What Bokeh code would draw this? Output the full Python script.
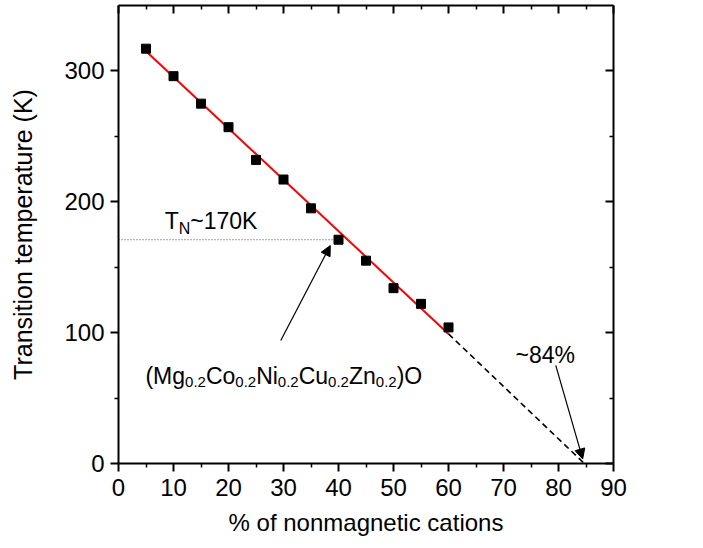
from bokeh.plotting import figure
from bokeh.models import LinearAxis, Range1d, Arrow, NormalHead, FixedTicker
from bokeh.core.properties import value
from bokeh.embed import file_html
from bokeh.resources import INLINE

# ---- data ----
nonmag_pct = [5, 10, 15, 20, 25, 30, 35, 40, 45, 50, 55, 60]
trans_temp = [317, 296, 275, 257, 232, 217, 195, 171, 155, 134, 122, 104]
fit_x = [5, 60]
fit_y = [315, 99]
extrap_x = [60, 84.7]
extrap_y = [99, 0]
tn_line_x = [0, 39.5]
tn_line_y = [171, 171]
x_major = [0, 10, 20, 30, 40, 50, 60, 70, 80, 90]
x_minor = [5, 15, 25, 35, 45, 55, 65, 75, 85]
y_major = [0, 100, 200, 300]
y_minor = [50, 150, 250]
# annotation anchors (data units)
tn_label_pos = (8.4, 185.0)
formula_label_pos = (4.9, 67.0)
pct_label_pos = (72.2, 83.0)
arrow1 = (29.5, 94.0, 38.5, 166.5)
arrow2 = (79.5, 75.0, 84.4, 3.5)

FONT = "Liberation Sans"

# Arial / Liberation Sans advance widths (em)
W = {"(": .333, ")": .333, "M": .833, "g": .556, "C": .722, "o": .556, "N": .722,
     "i": .222, "u": .556, "Z": .611, "n": .556, "O": .778, "0": .556, ".": .278,
     "2": .556, "T": .611, "~": .584, "1": .556, "7": .556, "K": .667, "8": .556,
     "4": .556, "%": .889}


def tw(s, size):
    return sum(W[c] for c in s) * size


p = figure(frame_width=495, frame_height=458,
           min_border_left=118, min_border_right=90,
           min_border_top=5, min_border_bottom=85,
           x_range=Range1d(0, 90), y_range=Range1d(0, 350),
           output_backend="svg", toolbar_location=None)
p.outline_line_color = None
p.grid.visible = False
p.background_fill_color = "white"
p.border_fill_color = "white"

bottom = p.below[0]
left = p.left[0]
top = LinearAxis()
right = LinearAxis()
p.add_layout(top, "above")
p.add_layout(right, "right")

for ax in [bottom, top]:
    ax.ticker = FixedTicker(ticks=x_major, minor_ticks=x_minor)
for ax in [left, right]:
    ax.ticker = FixedTicker(ticks=y_major, minor_ticks=y_minor)

for ax in [bottom, left, top, right]:
    ax.axis_line_width = 2
    ax.axis_line_color = "black"
    ax.major_tick_line_width = 2
    ax.minor_tick_line_width = 1.5
    ax.major_tick_line_color = "black"
    ax.minor_tick_line_color = "black"
    ax.major_label_text_font = FONT
    ax.major_label_text_font_size = "24px"
    ax.major_label_text_color = "black"
    ax.axis_label_text_font = FONT
    ax.axis_label_text_font_style = "normal"
    ax.axis_label_text_color = "black"

for ax in [bottom, left]:
    ax.major_tick_out = 8
    ax.major_tick_in = 0
    ax.minor_tick_out = 4
    ax.minor_tick_in = 0
bottom.axis_label = "% of nonmagnetic cations"
bottom.axis_label_text_font_size = "24px"
bottom.major_label_standoff = 7
bottom.axis_label_standoff = 10
left.axis_label = "Transition temperature (K)"
left.axis_label_text_font_size = "25px"
left.major_label_standoff = 6
left.axis_label_standoff = 24

for ax, ticks in [(top, x_major), (right, y_major)]:
    ax.major_tick_out = 0
    ax.major_tick_in = 8
    ax.minor_tick_out = 0
    ax.minor_tick_in = 4
    ax.major_label_overrides = {t: "" for t in ticks}
    ax.major_label_standoff = 0
    ax.axis_label_standoff = 0
    ax.axis_label = None

# lines
p.line(tn_line_x, tn_line_y, line_color="#444444", line_width=1, line_dash="1 2")
p.line(extrap_x, extrap_y, line_color="black", line_width=1.6, line_dash="6 4")
p.line(fit_x, fit_y, line_color="#ff0000", line_width=2)
p.scatter(nonmag_pct, trans_temp, marker="square", size=9, color="black")

# arrows
for (xs, ys, xe, ye) in [arrow1, arrow2]:
    p.add_layout(Arrow(x_start=xs, y_start=ys, x_end=xe, y_end=ye,
                       line_color="black", line_width=1.2,
                       end=NormalHead(size=10, fill_color="black", line_color="black")))


def rich_text(pos, pieces):
    off = 0.0
    for s, size, dy in pieces:
        p.text(x=[pos[0]], y=[pos[1]], text=[s], x_offset=off, y_offset=dy,
               text_font=value(FONT), text_font_size=f"{size}px",
               text_baseline="alphabetic", text_align="left", text_color="black")
        off += tw(s, size)


rich_text(tn_label_pos, [("T", 23, 0), ("N", 16, 7), ("~170K", 23, 0)])
rich_text(formula_label_pos, [("(Mg", 23, 0), ("0.2", 15, 6), ("Co", 23, 0), ("0.2", 15, 6),
                              ("Ni", 23, 0), ("0.2", 15, 6), ("Cu", 23, 0), ("0.2", 15, 6),
                              ("Zn", 23, 0), ("0.2", 15, 6), (")O", 23, 0)])
rich_text(pct_label_pos, [("~84%", 23, 0)])

open("out.html", "w").write(file_html(p, INLINE))
